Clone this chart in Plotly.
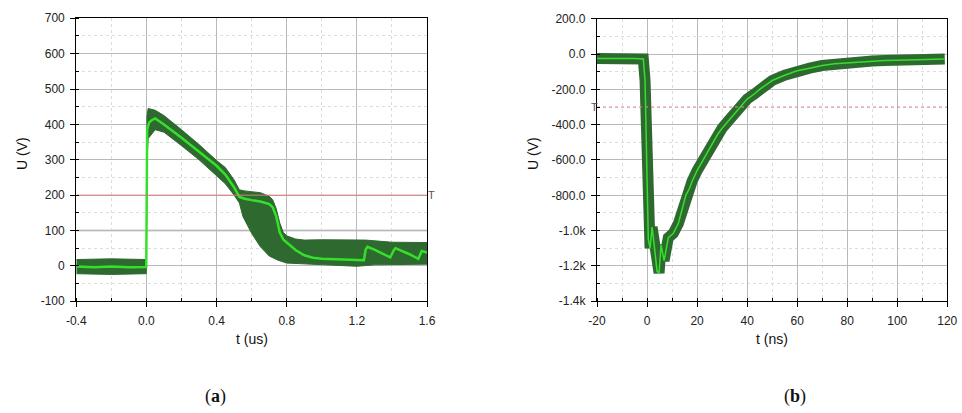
import plotly.graph_objects as go

# ---------------- data: panel (a) ----------------
t_a = [-0.4, -0.3, -0.2, -0.1, -0.001, 0.0, 0.004, 0.015, 0.03, 0.05, 0.1, 0.2, 0.3, 0.4,
       0.45, 0.5, 0.53, 0.56, 0.6, 0.65, 0.7, 0.72, 0.74, 0.76, 0.78, 0.8, 0.85, 0.9,
       0.95, 1.0, 1.1, 1.24, 1.25, 1.26, 1.3, 1.39, 1.41, 1.42, 1.5, 1.55, 1.57, 1.6]
u_a_mid = [-2, -4, -2, -4, -3, 200, 385, 405, 412, 417, 400, 362, 322, 283,
           258, 222, 195, 190, 186, 182, 175, 166, 140, 95, 75, 66, 45, 30,
           23, 20, 18, 16, 46, 54, 46, 24, 44, 50, 33, 20, 42, 38]

t_a_hi = [-0.4, -0.2, -0.001, 0.0, 0.003, 0.01, 0.05, 0.1, 0.2, 0.3, 0.4, 0.45, 0.5, 0.53,
          0.56, 0.6, 0.65, 0.7, 0.72, 0.74, 0.76, 0.78, 0.8, 0.85, 0.9, 1.0, 1.2, 1.25, 1.4, 1.6]
u_a_hi = [18, 20, 18, 18, 425, 445, 440, 425, 385, 343, 298, 278, 243, 215,
          212, 210, 207, 197, 187, 162, 122, 95, 85, 76, 73, 74, 73, 73, 67, 66]

t_a_lo = [-0.4, -0.2, -0.001, 0.0, 0.003, 0.01, 0.05, 0.1, 0.2, 0.3, 0.4, 0.45, 0.5, 0.53,
          0.55, 0.6, 0.65, 0.7, 0.75, 0.8, 1.0, 1.2, 1.3, 1.6]
u_a_lo = [-22, -24, -22, -22, 300, 360, 385, 378, 340, 300, 255, 232, 200, 178,
          140, 92, 54, 28, 16, 8, 4, -1, 3, 5]

trig_a = 200
xticks_a = [-0.4, 0.0, 0.4, 0.8, 1.2, 1.6]
yticks_a = [-100, 0, 100, 200, 300, 400, 500, 600, 700]

# ---------------- data: panel (b) ----------------
t_b = [-20, -15, -10, -5, -1.5, -0.8, -0.3, 0, 0.5, 1.2, 2, 3, 4, 4.8, 5.6, 6.8, 8.5,
       10.5, 12.5, 14, 15.5, 17, 18, 20, 22, 25, 28, 30, 33, 35, 38, 40, 43, 45, 48,
       50, 55, 60, 65, 70, 75, 80, 85, 90, 95, 100, 105, 110, 115, 119]
u_b = [-25, -24, -22, -25, -28, -150, -500, -800, -1050, -1100, -980, -1100, -1230,
       -1240, -1080, -1170, -1040, -1015, -960, -880, -800, -760, -720, -660, -610,
       -530, -460, -420, -370, -335, -285, -255, -225, -200, -170, -150, -120, -95,
       -80, -65, -55, -50, -45, -40, -37, -35, -33, -30, -30, -28]

trig_b = -300
xticks_b = [-20, 0, 20, 40, 60, 80, 100, 120]
yticks_b = [200, 0, -200, -400, -600, -800, -1000, -1200, -1400]
yticklabels_b = ["200.0", "0.0", "-200.0", "-400.0", "-600.0", "-800.0", "-1.0k", "-1.2k", "-1.4k"]

# ---------------- styles ----------------
BAND = "#2e6a30"
BRIGHT = "#34e02a"
FONT = "Liberation Sans, Arial, sans-serif"
GRID = "#b9b9b9"
MINOR_GRID = "#dcdcdc"

fig = go.Figure()

# panel (a) band polygon
fig.add_trace(go.Scatter(
    x=t_a_hi + t_a_lo[::-1], y=u_a_hi + u_a_lo[::-1],
    fill="toself", fillcolor=BAND, mode="lines", line=dict(color=BAND, width=1),
    xaxis="x", yaxis="y", hoverinfo="skip", showlegend=False))
fig.add_trace(go.Scatter(
    x=t_a, y=u_a_mid, mode="lines", line=dict(color=BRIGHT, width=2.5),
    xaxis="x", yaxis="y", showlegend=False))
# trigger line (a)
fig.add_trace(go.Scatter(
    x=[xticks_a[0], xticks_a[-1]], y=[trig_a, trig_a], mode="lines",
    line=dict(color="#d87c7c", width=1), xaxis="x", yaxis="y", showlegend=False))

# panel (b) band as thick line + bright center
fig.add_trace(go.Scatter(
    x=t_b, y=u_b, mode="lines", line=dict(color=BAND, width=11),
    xaxis="x2", yaxis="y2", showlegend=False))
fig.add_trace(go.Scatter(
    x=t_b, y=u_b, mode="lines", line=dict(color=BRIGHT, width=1.5),
    xaxis="x2", yaxis="y2", showlegend=False))
fig.add_trace(go.Scatter(
    x=[xticks_b[0], xticks_b[-1]], y=[trig_b, trig_b], mode="lines",
    line=dict(color="#e08a8a", width=1, dash="dot"), xaxis="x2", yaxis="y2", showlegend=False))

tickfont = dict(family=FONT, size=12, color="#222222")


def axis(domain, rng, tickvals, ticktext, minor_dtick, anchor):
    return dict(
        domain=domain, range=rng, anchor=anchor, automargin=False,
        tickmode="array", tickvals=tickvals, ticktext=ticktext,
        showline=True, linecolor="black", linewidth=1.3, mirror=True,
        ticks="outside", ticklen=5, tickcolor="black", tickwidth=1,
        showgrid=True, gridcolor=GRID, gridwidth=1,
        zeroline=False, tickfont=tickfont, ticklabelstandoff=3,
        minor=dict(dtick=minor_dtick, tick0=rng[0], ticks="inside", ticklen=3,
                   tickcolor="black", showgrid=True, gridcolor=MINOR_GRID,
                   griddash="dot", gridwidth=1),
    )


fig.update_layout(
    width=962, height=413,
    margin=dict(l=0, r=0, t=0, b=0, autoexpand=False),
    paper_bgcolor="white", plot_bgcolor="white",
    showlegend=False,
    xaxis=axis([0.0793, 0.4439], [-0.4, 1.6], xticks_a, [f"{v:.1f}" for v in xticks_a], 0.2, "y"),
    yaxis=axis([0.2705, 0.9557], [-100, 700], yticks_a, [str(v) for v in yticks_a], 50, "x"),
    xaxis2=axis([0.6206, 0.9847], [-20, 120], xticks_b, [str(v) for v in xticks_b], 10, "y2"),
    yaxis2=axis([0.2705, 0.9547], [-1400, 200], yticks_b, yticklabels_b, 100, "x2"),
)

# lighter, thicker grey line at 100 V (as in reference)
fig.add_shape(type="line", xref="x", yref="y", x0=-0.4, x1=1.6, y0=100, y1=100,
              line=dict(color="#dcdcdc", width=2.5), layer="below")

ann = []
titlefont = dict(family=FONT, size=14, color="#111111")


def pann(text, px, py, **kw):
    d = dict(text=text, x=px / 962, y=1 - py / 413, xref="paper", yref="paper",
             xanchor="center", yanchor="middle", showarrow=False, font=titlefont)
    d.update(kw)
    return d


ann.append(pann("U (V)", 22, 154, textangle=-90))
ann.append(pann("t (us)", 252, 339))
ann.append(pann("U (V)", 533, 154, textangle=-90))
ann.append(pann("t (ns)", 772, 339))
# trigger markers
ann.append(dict(text="T", x=1.6, y=trig_a, xref="x", yref="y", xanchor="left", yanchor="middle",
                xshift=-1, showarrow=False, font=dict(family=FONT, size=11, color="#555555")))
ann.append(dict(text="T", x=-20, y=trig_b, xref="x2", yref="y2", xanchor="center", yanchor="middle",
                xshift=-3, showarrow=False, font=dict(family=FONT, size=11, color="#555555")))
# captions
capfont = dict(family="Liberation Serif, serif", size=18, color="#111111")
ann.append(pann("(<b>a</b>)", 215, 396, font=capfont))
ann.append(pann("(<b>b</b>)", 795, 396, font=capfont))
fig.update_layout(annotations=ann)

fig.write_html("out.html")
